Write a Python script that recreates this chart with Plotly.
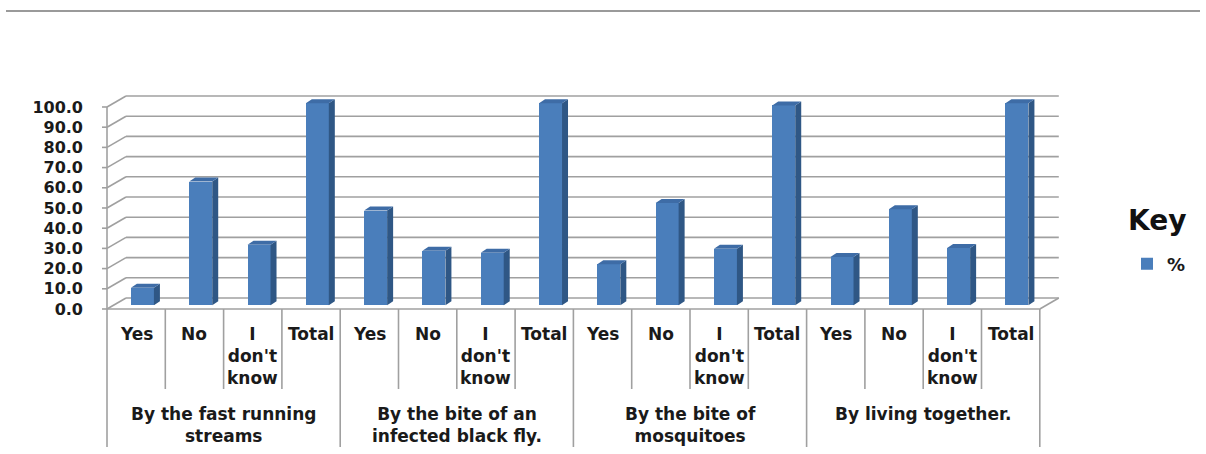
import plotly.graph_objects as go

# ---------------- data ----------------
groups = ["By the fast running<br>streams", "By the bite of an<br>infected black fly.",
          "By the bite of<br>mosquitoes", "By living together."]
answers = ["Yes", "No", "I<br>don't<br>know", "Total"]
g1_values = [8.7, 61.3, 30.0, 100.0]
g2_values = [46.9, 27.0, 26.1, 100.0]
g3_values = [20.3, 50.7, 28.0, 99.0]
g4_values = [24.0, 47.6, 28.4, 100.0]
y_ticks = [0, 10, 20, 30, 40, 50, 60, 70, 80, 90, 100]
y_ticktext = ["%.1f" % v for v in y_ticks]
series_name = "%"

values = g1_values + g2_values + g3_values + g4_values
n = len(values)

# ---------------- 3D geometry (in axis units) ----------------
PX_X = 58.3          # px per category
PX_Y = 2.02          # px per value unit
dxu = 19 / PX_X      # wall depth
dyu = 11 / PX_Y
bdx = 6 / PX_X       # bar depth
bdy = 4 / PX_Y
frac = 0.33          # bar position inside the depth
bar_w = 23 / PX_X

FRONT = "#4a7ebb"
SIDE = "#2f5785"
TOP = "#3e6ca6"
GRID = "#a0a0a0"

bx = [i + frac * dxu for i in range(n)]
base = frac * dyu

fig = go.Figure()

fig.add_trace(go.Bar(x=bx, y=values, base=base, width=bar_w,
                     marker=dict(color=FRONT, line=dict(width=0)),
                     name=series_name, showlegend=True))

sx, sy, tx, ty = [], [], [], []
for x, v in zip(bx, values):
    r = x + bar_w / 2
    l = x - bar_w / 2
    top = base + v
    sx += [r, r + bdx, r + bdx, r, r, None]
    sy += [base, base + bdy, top + bdy, top, base, None]
    tx += [l, r, r + bdx, l + bdx, l, None]
    ty += [top, top, top + bdy, top + bdy, top, None]

fig.add_trace(go.Scatter(x=sx, y=sy, fill="toself", fillcolor=SIDE, mode="lines",
                         line=dict(width=0, color=SIDE), hoverinfo="skip", showlegend=False))
fig.add_trace(go.Scatter(x=tx, y=ty, fill="toself", fillcolor=TOP, mode="lines",
                         line=dict(width=0, color=TOP), hoverinfo="skip", showlegend=False))

# ---------------- walls / axes (shapes below traces) ----------------
shapes = []
def ln(x0, y0, x1, y1, w=1.6, c=GRID, xref="x", yref="y"):
    shapes.append(dict(type="line", x0=x0, y0=y0, x1=x1, y1=y1, xref=xref, yref=yref,
                       line=dict(color=c, width=w), layer="below"))

left = -0.5
right = n - 0.5
for v in y_ticks:
    ln(left, v, left + dxu, v + dyu)
    ln(left + dxu, v + dyu, right + dxu, v + dyu)
    ln(left - 5 / PX_X, v, left, v)
ln(left, 0, left, y_ticks[-1])
ln(right, 0, right + dxu, dyu)
ln(left, 0, right, 0)
short_len = -(389 - 309) / PX_Y
long_len = -(447 - 309) / PX_Y
for k in range(n + 1):
    xk = k - 0.5
    ln(xk, 0, xk, long_len if k % 4 == 0 else short_len)

# top border line of the image
shapes.append(dict(type="line", xref="paper", yref="paper",
                   x0=(6 - 100) / 970, x1=(1200 - 100) / 970,
                   y0=(452 - 11) / 364, y1=(452 - 11) / 364,
                   line=dict(color="#9a9a9a", width=2)))

# ---------------- labels ----------------
LBL = dict(family="DejaVu Sans", size=17, color="#1a1a1a", weight="bold")
annotations = []
for i in range(n):
    annotations.append(dict(x=i, y=-(322 - 309) / PX_Y, xref="x", yref="y",
                            text=answers[i % 4], showarrow=False, yanchor="top",
                            xanchor="center", font=LBL, align="center"))
for g, name in enumerate(groups):
    annotations.append(dict(x=g * 4 + 1.5, y=-(402 - 309) / PX_Y, xref="x", yref="y",
                            text=name, showarrow=False, yanchor="top",
                            xanchor="center", font=LBL, align="center"))
annotations.append(dict(x=(1157 - 100) / 970, y=(452 - 220) / 364, xref="paper", yref="paper",
                        text="Key", showarrow=False, xanchor="center", yanchor="middle",
                        font=dict(family="DejaVu Sans", size=28, color="#111", weight="bold")))

fig.update_layout(
    width=1206, height=454,
    margin=dict(l=100, r=136, t=88, b=2),
    paper_bgcolor="white", plot_bgcolor="white",
    shapes=shapes, annotations=annotations,
    bargap=0,
    xaxis=dict(range=[-0.62, 16.018], showgrid=False, zeroline=False,
               showticklabels=False, showline=False, fixedrange=True),
    yaxis=dict(range=[-70.8, 109.4], tickvals=y_ticks, ticktext=y_ticktext,
               showgrid=False, zeroline=False, showline=False, ticks="",
               ticklabelstandoff=16,
               tickfont=dict(family="DejaVu Sans", size=16, color="#1a1a1a", weight="bold")),
    legend=dict(x=(1127 - 100) / 970, y=(452 - 264) / 364, xanchor="left", yanchor="middle",
                itemwidth=30,
                font=dict(family="DejaVu Sans", size=18, color="#1a1a1a", weight="bold"),
                bgcolor="rgba(0,0,0,0)"),
    showlegend=True,
)

fig.write_html("out.html")
